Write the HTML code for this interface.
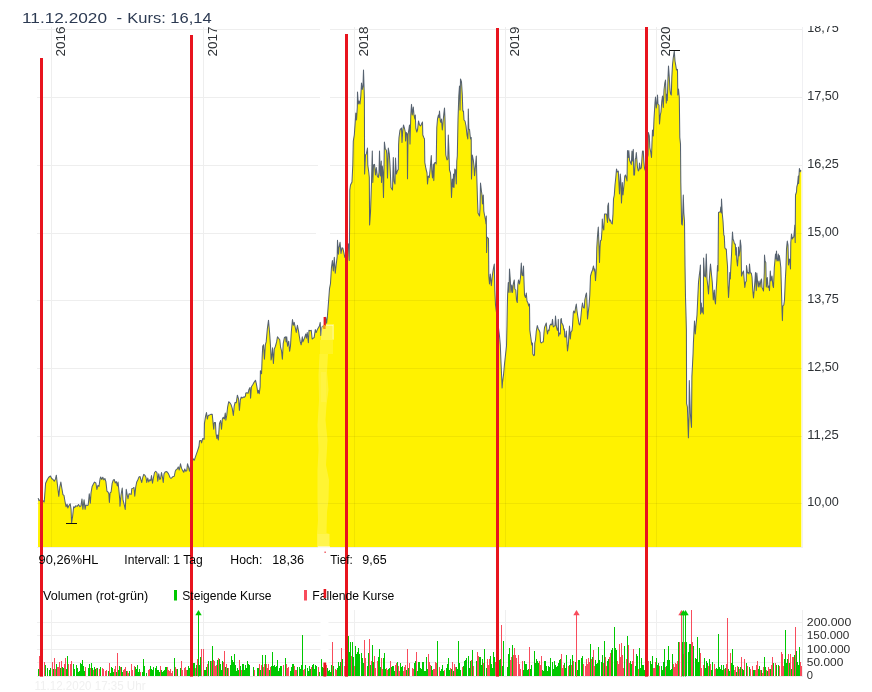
<!DOCTYPE html>
<html lang="de"><head><meta charset="utf-8"><title>Chart</title>
<style>html,body{margin:0;padding:0;background:#fff;}body{width:872px;height:692px;overflow:hidden;}svg{display:block;font-family:"Liberation Sans",sans-serif;}.t{font-size:12.5px;fill:#2e3236;}.y{font-size:13px;fill:#2e3236;}.v{font-size:12.3px;fill:#2c2c2c;}</style></head><body>
<svg width="872" height="692" viewBox="0 0 872 692">
<rect width="872" height="692" fill="#fff"/>
<g shape-rendering="crispEdges" fill="#eeeeee">
<rect x="37" y="28.5" width="765" height="1"/>
<rect x="37" y="96.5" width="765" height="1"/>
<rect x="37" y="164.5" width="765" height="1"/>
<rect x="37" y="232.5" width="765" height="1"/>
<rect x="37" y="299.5" width="765" height="1"/>
<rect x="37" y="367.5" width="765" height="1"/>
<rect x="37" y="435.5" width="765" height="1"/>
<rect x="37" y="502.5" width="765" height="1"/>
<rect x="51" y="27" width="1" height="520"/>
<rect x="203" y="27" width="1" height="520"/>
<rect x="354.2" y="27" width="1" height="520"/>
<rect x="505.1" y="27" width="1" height="520"/>
<rect x="656.2" y="27" width="1" height="520"/>
<rect x="802" y="27" width="1" height="521" fill="#f0f0f3"/>
<rect x="37" y="547" width="766" height="1" fill="#f0f0f3"/>
</g>
<g fill="#fff"><rect x="320" y="28" width="10" height="2" /><rect x="320" y="96" width="10" height="2" /><rect x="318" y="164" width="12" height="2" /><rect x="316" y="232" width="14" height="2" /><rect x="320" y="299" width="6" height="2" /></g>
<path d="M38,547L38.15,498.06L39.01,500.66L40.05,499.79L41.44,501.01L43,500.66L44.21,502.05L45.6,483.33L47.33,479.51L48.72,477.26L50.45,476.05L51.66,478.47L53.05,479.51L54.26,481.25L55.48,478.99L56.34,475.18L57.04,481.59L58.08,490.26L58.77,496.33L59.81,486.79L60.85,482.11L61.89,488.53L62.93,494.59L63.97,495.46L65.01,501.53L66.05,506.72L67.09,504.12L67.78,507.94L68.99,505.51L70.21,503.78L71.07,509.32L71.59,522.84L72.63,516.26L73.67,506.72L74.71,507.59L75.75,505.86L77.14,506.38L78.53,504.47L79.91,506.72L80.95,505.86L81.99,498.93L82.86,509.32L84.07,499.79L85.11,509.32L85.81,504.99L87.19,505.51L88.23,504.99L89.27,493.73L90.31,503.26L91.01,492.86L92.05,486.79L93.26,484.19L94.47,482.11L95.86,482.98L96.9,489.39L97.94,485.41L98.98,486.45L100.02,478.99L100.71,476.92L101.75,479.51L102.79,477.26L103.83,479.86L104.87,478.47L105.91,481.59L106.95,491.13L107.99,491.99L108.86,493.73L109.38,502.39L110.07,492.86L111.11,491.99L112.15,483.33L113.19,480.21L114.23,479.51L115.27,482.98L116.31,481.59L117.35,485.93L118.04,482.11L119.08,491.99L119.77,499.79L120,506.25L121,495L122.25,488.12L123,500L124,503.75L125.25,509.38L126.25,489.38L127.25,495L128,498.75L129,493.75L130.25,494L131.25,494.38L131.75,488.75L133,488.12L134,487.5L134.75,496.25L135.75,486.88L136.75,481.88L137.75,480L139,476.88L140,476.5L141,480L141.75,482.5L142.75,477.5L143.75,474.38L145,475.38L146,477.5L146.75,482.5L147.75,478.12L148.75,481.88L149.75,479.75L150.75,480.62L151.5,475.62L152.5,483.12L153.5,477.5L154.5,472.5L155.75,471.25L157,472.75L157.75,481.25L158.75,473.75L159.75,479.38L160.5,478.75L161.5,472.5L162.5,477.5L163.25,482.5L164,473.75L165.25,471.88L166.25,471.5L167.5,472.25L168.75,474.38L170,477.5L171,478.5L172,477.5L173,476.62L174.25,476.25L175.25,471.25L176.25,469.38L177.25,469L178.25,466.88L179.25,470L180.5,463.75L181.5,468.12L182.75,470.62L183.75,472.25L184.75,469L185.75,471.25L186.75,470.62L187.5,463.75L188.5,466.88L189.5,471.25L190.25,466.88L191.5,465L193.18,458.76L194.34,460.2L195.78,455.87L197.51,450.81L198.96,446.47L199.54,440.69L200.98,440.4L201.56,442.86L202.72,438.53L204.16,439.25L204.45,423.35L205.61,416.13L206.47,412.51L207.34,419.02L208.21,415.4L209.36,415.12L210.81,414.39L212.25,414.39L213.12,423.35L213.7,429.13L214.28,422.63L215.43,422.63L216.01,433.47L216.88,438.53L217.46,434.91L218.32,439.97L219.48,423.35L220.64,420.46L221.5,429.13L222.37,419.02L223.24,417.28L224.39,419.02L225.26,412.95L225.84,420.17L226.71,415.4L227.57,407.46L228.73,401.68L229.88,402.83L231.04,404.57L232.2,408.18L233.35,415.4L234.22,406.01L235.09,402.4L236.24,402.83L237.4,395.17L238.55,398.79L239.42,410.35L240.29,400.23L241.16,397.05L242.02,398.06L243.18,397.05L244.34,397.34L245.49,395.9L245.78,393.01L246.94,392.72L248.09,393.29L248.96,389.39L250,387.43L250.58,398.27L251.45,386.71L252.89,384.54L254.05,382.37L255.49,380.2L256.36,383.82L257.23,388.87L257.8,393.21L258.38,390.32L259.25,393.64L260.12,386.71L260.4,370.81L261.56,373.7L262.14,357.8L262.72,346.24L263.58,344.8L264.45,359.25L265.32,344.8L266.18,341.91L267.34,328.9L268.5,320.23L269.65,333.24L270.52,346.24L271.1,359.97L271.68,357.08L272.54,347.69L273.41,363.58L274.28,349.13L275.43,346.24L276.59,341.91L277.46,336.85L278.61,338.29L279.77,339.74L280.64,347.69L281.5,350.58L282.37,359.25L283.24,343.35L284.39,337.57L285.55,336.85L286.13,341.91L286.71,336.85L287.57,346.24L288.73,341.18L289.6,351.3L290.46,346.24L291.33,331.79L292.49,319.51L293.35,325.29L294.22,322.4L295.09,326.73L296.24,332.51L297.4,325.29L298.55,331.07L299.42,336.85L300.29,341.91L301.16,344.8L302.31,336.85L302.89,341.91L303.76,339.74L304.62,337.57L305.78,333.96L306.36,338.29L307.23,332.51L308.38,342.63L308.96,330.35L310.12,330.64L311.27,330.35L312.14,339.02L313.01,338.29L314.16,337.57L315.32,329.62L316.18,332.51L317.34,329.62L318.5,327.46L319.36,326.01L320.23,322.4L320.81,335.4L321.68,327.46L322.54,326.01L323.7,327.46L324.86,323.84L325.72,317.34L326.59,323.12L327.46,315.9L328.59,301.08L329.54,288.36L330.49,283.59L331.45,267.69L332.4,260.54L333.35,270.87L334.31,257.36L335.26,273.26L336.22,264.52L337.17,256.57L337.49,240.35L338.44,254.18L339.08,247.03L340.03,242.26L340.99,253.39L341.94,247.82L342.89,248.3L343.85,252.59L344.8,257.36L346.39,251.8L348.3,243.85L349.25,260.54L349.6,226L349.8,190L350.5,185L352,182L352.8,165L353.3,141L354.3,135L355.3,121L355.8,113L356.5,120L357.3,107.5L357.5,92L358.3,104L359,101L360,104L360.8,96L361.5,83L362.3,89.4L363,86L363.5,70L364,86L364.4,97.5L364.6,174L365.5,155L366.3,154L367.5,148L367.8,165L368.8,172.5L369.3,177.5L369.6,225L370.5,212.5L371.5,182.5L372.3,151L372.8,182.5L373.5,165L374.5,164.4L375.5,175L376.3,167.5L377.3,176L378.3,177.5L379,172.5L379.5,151L380.3,176L381.3,161L381.5,182.5L382.3,166L382.8,171L383.5,197.5L384.4,142L385.3,149L386.3,150L386.8,154L387.5,178L388.3,148L389.3,154L390,165L391,187.5L392.5,190L393.3,157.5L394,181L395,184L395.5,158L396.3,174L397.5,170.6L398.3,169.4L398.6,145L399,137.5L400,130L400.8,128.8L401.5,128L402,142.5L402.8,130L403.5,125L404.5,128.5L405.3,132L405.6,141L406.3,132.5L407.2,134L407.5,178.8L408,135L408.8,130L409.5,125L410,144L410.8,115L411.5,104.4L412.3,115L413.3,107L414,115L414.8,119L415.3,115L415.8,128L416.8,132L417.5,130L418.5,121L419.5,125L420.5,126L421.5,124L422.5,122L422.8,135L423.8,137.5L424.5,139L424.8,162.5L426,169L427,173L427.5,184L428.3,176L429.3,177.5L430.3,167.5L431.3,155.6L431.8,171L432.5,178L433.3,164L433.8,180.6L434.5,163L435.5,162.5L436.2,164L436.5,145L436.8,127.5L437.5,119L438.5,115L439,117.5L439.5,111L440.3,121L441,122.5L441.5,119L442.3,130L443,122.5L443.8,114L444.5,108L445,119L445.5,146L445.8,155L447,160L447.8,159L448.3,135L448.8,147.5L449.5,170L450.5,173L451,181L451.5,197.5L452.3,179L453,187L453.5,174L454,187.5L454.8,169L455.5,170L456.3,184L456.8,161L457.3,156L458,120L458.8,96L459.5,86L460,110L460.5,79L461.5,82L462.3,95L462.8,111L463.5,111L464,120L465,121L466,126L467,135L467.8,139L468.1,127.5L468.3,109L468.8,129L469.5,129.4L470.5,139L471.2,137.5L471.5,179L472.3,155L473.3,160L474,166L474.5,175.6L475.5,166L476.3,156L476.8,177.5L477.5,200L478,213L479,215L479.5,216L480,209L480.5,183L481.3,190L482,195L482.5,204L483.3,195L483.8,211L484.5,215L485.5,220L486,224L486.3,216L486.6,252.5L487,237L488.5,238.5L488.8,276L489.5,284L490.3,274L491.3,285.6L492.3,276L493.3,269L494.3,264L494.8,290L495.5,305L496,309L497.5,320L499.5,336L500.3,345L501,362.5L501.8,380L502.1,388L502.5,382.5L503.5,375L504.5,364L505.5,355L506.5,346L507,325L507.3,307.5L507.6,295L508.3,282.5L509,292.5L509.5,269L510.3,280L511,292.5L511.8,285L512.5,292.5L513.3,284L514.3,280L514.8,289L515.8,290L516.5,300L517.3,302.5L517.8,285L518.5,280L519.5,284L520.5,277.5L521.3,263L522,275L522.8,275.6L523.5,266L524,281L524.5,295L525.5,297.5L526.3,293L527,301L528,303L528.8,306L529.5,304L529.8,330L530.8,337.5L531.8,345L532.5,343L532.8,354L533.8,355.6L534.5,355L534.8,343L535.5,340L536.3,331L537.3,325.6L538.3,329L539.3,330.6L540,332.5L540.5,342L541.3,343L542.3,342L543.3,342L544,332.5L544.5,327.5L545.5,325L546.3,323L547,331L547.5,334L548.3,330L549,330.6L549.8,325.6L550.8,324L551.8,325L552.5,319.4L553.3,327L554.3,326L555,325.6L555.5,316L556.3,326L557.3,330L558,330.6L558.3,319.4L558.6,336L559.5,333L560.3,334L560.8,319.4L561.3,318.5L561.8,323L562.5,324L563.3,326L563.8,330L564.3,329L564.8,337L565.8,337L566.3,331L566.8,339L567.5,351L568.3,345L569,334L569.5,326L570.3,339L571,332L572,330.6L572.5,326L573.3,312.5L573.8,311L574.8,313L575.5,308L576.3,304L577,311L578,317.5L579,324L579.8,325L580.5,321L581.3,312.5L581.8,307.5L582.5,303L583.3,307.5L584.3,308L584.8,300L585.8,295L586.5,293L587.1,305L587.5,319L588.3,312L589,306L589.8,295L590.5,276L591.5,272.5L592.5,270L593.5,266L594.3,271L594.8,269L595.5,280.6L596.3,269L596.8,247.5L597.5,236L598.3,227L599,246L599.5,262.5L600,247.5L600.5,240.6L601.3,240L602,230L602.3,219L603,227.5L603.8,230L604.5,214L605.5,214L606.5,214L607.5,222.5L607.8,206L608.5,203L608.8,217.5L609.8,221L610.5,220L611.3,223L612.3,224L613,214L613.5,199L614.3,195L615,185L615.8,177.5L616.5,169L617.3,172L618.3,171L618.8,181L619.5,194L620.3,174L620.8,181L621.5,203L622.3,182.5L623,195L624,185L624.8,176L625.5,175L626.3,178L627,181L627.5,150.6L628.3,157.5L628.8,150.6L629.5,160L630.5,162.5L631.3,164.4L632,151L632.5,161L633.3,149.4L633.8,175L634.5,175L635.3,159L635.8,158L636.3,152.5L637,161L637.5,167.5L638.3,171L639,170L639.5,163L640.3,169L641.3,168L642,157.5L642.5,151L643.3,151L643.8,161L644.5,168L645,170L646.5,162L648,155L648.3,132.5L649.3,136L649.8,147.5L650.8,152.5L651.5,157.5L652,142.5L652.5,130L653.3,136L654,119L654.8,106L655,102.5L655.5,97L656.3,108L657,102.5L657.5,95L658,104L659,105L659.5,124L660.3,115L661,112L661.8,101L662.5,96L663.3,107.5L664,90L664.8,83L665.5,80L666.3,103L666.5,94L667.3,100.6L668,77.5L668.5,66L669.3,77.5L670,90L670.5,94L671.3,95L671.8,77.5L672.5,65L673.3,57.5L674.3,51L675,61L675.8,65.6L676.5,70L677.5,69.4L677.8,95L678.5,89L679.3,97.5L679.8,137.5L680.5,144L680.8,182.5L681.3,207.5L681.6,224L682.3,225L682.8,212.5L683.3,195L683.8,212.5L684.5,221L685,266L685.5,297.5L686,315L686.4,330L686.6,403.6L687.4,407L688.4,437.8L689,416L689.3,380.5L690.3,413L691.5,427.4L691.9,376.6L692.5,365L693.1,352.7L693.4,343L693.8,335L694.5,321L695.3,334L696,325L697,315L697.8,297.5L698.5,282.5L699.3,275L700,270L700.4,265L700.6,314L701.3,303L702,312.5L702.8,307.5L703.3,314L703.6,258L704.5,276L705.5,277L706.3,254L707,279L707.8,286L708.5,294L709.3,280L710,270L710.5,264L711.3,272.5L712.3,282.5L713.3,300L714.3,290L714.8,300L715.5,304L716,293L716.8,281L717.5,265.6L718,271L718.5,212.5L719.5,212L720.3,212L720.8,207L721.3,213L721.5,199L722.3,214L723,221L723.8,235L724.3,236L724.8,247.5L725.5,249L726.3,249L726.8,257.5L727.5,266L728,285L728.5,297.5L729.3,285L729.8,272.5L730.3,279L730.8,267.5L731.5,255L732,242.5L732.5,232L733,239L733.8,241L734.5,244L735.3,244L735.8,255L736.3,247.5L736.8,260L737.5,266L738.3,255L738.5,247L739,256L739.8,251L740.3,240L741,246L741.5,276L742.5,273L743.5,271L744,277.5L744.8,287.5L745.5,282.5L746.3,281L746.5,265.6L747.5,273L748.5,272.5L749,274L749.5,264L750.3,273L751.3,273L752,277L752.8,291L753.5,298L754.3,289L755,280L755.5,272.5L756.3,290.6L756.8,273L757.5,281L758.3,287L759,281L760,287L760.8,280.6L761.5,279L762,287.5L762.8,289L763.5,291L764.3,272.5L764.5,255L765,261L765.8,262.5L766.3,287L767.3,277.5L768,287.5L768.8,286L769.5,290.6L770.3,271L771,281L772,276L772.8,285L773.5,287.5L774.3,267.5L775,260L775.5,254L776,259L776.5,251L777,261L777.8,260L778.3,254L778.8,261L779.3,255.6L780,260L780.8,267.5L781.3,285L781.8,303L782.4,320.6L782.8,306L783.8,305L784.5,300L785.3,280L786,267.5L786.5,249L787.3,241L788,245L788.5,265L789.3,259L789.8,260L790.5,269L790.8,242.5L791.5,234L792.3,239L793,237.5L793.8,237L794.5,229.6L794.8,225L795.2,242.6L795.5,195L796.5,192L796.8,187L797.6,184L798.3,176L798.6,183.4L799.4,168.5L800.2,171.7L801,170.4L801.3,170.4 L801.3,547Z" fill="#fff200"/>
<clipPath id="ac"><path d="M38,547L38.15,498.06L39.01,500.66L40.05,499.79L41.44,501.01L43,500.66L44.21,502.05L45.6,483.33L47.33,479.51L48.72,477.26L50.45,476.05L51.66,478.47L53.05,479.51L54.26,481.25L55.48,478.99L56.34,475.18L57.04,481.59L58.08,490.26L58.77,496.33L59.81,486.79L60.85,482.11L61.89,488.53L62.93,494.59L63.97,495.46L65.01,501.53L66.05,506.72L67.09,504.12L67.78,507.94L68.99,505.51L70.21,503.78L71.07,509.32L71.59,522.84L72.63,516.26L73.67,506.72L74.71,507.59L75.75,505.86L77.14,506.38L78.53,504.47L79.91,506.72L80.95,505.86L81.99,498.93L82.86,509.32L84.07,499.79L85.11,509.32L85.81,504.99L87.19,505.51L88.23,504.99L89.27,493.73L90.31,503.26L91.01,492.86L92.05,486.79L93.26,484.19L94.47,482.11L95.86,482.98L96.9,489.39L97.94,485.41L98.98,486.45L100.02,478.99L100.71,476.92L101.75,479.51L102.79,477.26L103.83,479.86L104.87,478.47L105.91,481.59L106.95,491.13L107.99,491.99L108.86,493.73L109.38,502.39L110.07,492.86L111.11,491.99L112.15,483.33L113.19,480.21L114.23,479.51L115.27,482.98L116.31,481.59L117.35,485.93L118.04,482.11L119.08,491.99L119.77,499.79L120,506.25L121,495L122.25,488.12L123,500L124,503.75L125.25,509.38L126.25,489.38L127.25,495L128,498.75L129,493.75L130.25,494L131.25,494.38L131.75,488.75L133,488.12L134,487.5L134.75,496.25L135.75,486.88L136.75,481.88L137.75,480L139,476.88L140,476.5L141,480L141.75,482.5L142.75,477.5L143.75,474.38L145,475.38L146,477.5L146.75,482.5L147.75,478.12L148.75,481.88L149.75,479.75L150.75,480.62L151.5,475.62L152.5,483.12L153.5,477.5L154.5,472.5L155.75,471.25L157,472.75L157.75,481.25L158.75,473.75L159.75,479.38L160.5,478.75L161.5,472.5L162.5,477.5L163.25,482.5L164,473.75L165.25,471.88L166.25,471.5L167.5,472.25L168.75,474.38L170,477.5L171,478.5L172,477.5L173,476.62L174.25,476.25L175.25,471.25L176.25,469.38L177.25,469L178.25,466.88L179.25,470L180.5,463.75L181.5,468.12L182.75,470.62L183.75,472.25L184.75,469L185.75,471.25L186.75,470.62L187.5,463.75L188.5,466.88L189.5,471.25L190.25,466.88L191.5,465L193.18,458.76L194.34,460.2L195.78,455.87L197.51,450.81L198.96,446.47L199.54,440.69L200.98,440.4L201.56,442.86L202.72,438.53L204.16,439.25L204.45,423.35L205.61,416.13L206.47,412.51L207.34,419.02L208.21,415.4L209.36,415.12L210.81,414.39L212.25,414.39L213.12,423.35L213.7,429.13L214.28,422.63L215.43,422.63L216.01,433.47L216.88,438.53L217.46,434.91L218.32,439.97L219.48,423.35L220.64,420.46L221.5,429.13L222.37,419.02L223.24,417.28L224.39,419.02L225.26,412.95L225.84,420.17L226.71,415.4L227.57,407.46L228.73,401.68L229.88,402.83L231.04,404.57L232.2,408.18L233.35,415.4L234.22,406.01L235.09,402.4L236.24,402.83L237.4,395.17L238.55,398.79L239.42,410.35L240.29,400.23L241.16,397.05L242.02,398.06L243.18,397.05L244.34,397.34L245.49,395.9L245.78,393.01L246.94,392.72L248.09,393.29L248.96,389.39L250,387.43L250.58,398.27L251.45,386.71L252.89,384.54L254.05,382.37L255.49,380.2L256.36,383.82L257.23,388.87L257.8,393.21L258.38,390.32L259.25,393.64L260.12,386.71L260.4,370.81L261.56,373.7L262.14,357.8L262.72,346.24L263.58,344.8L264.45,359.25L265.32,344.8L266.18,341.91L267.34,328.9L268.5,320.23L269.65,333.24L270.52,346.24L271.1,359.97L271.68,357.08L272.54,347.69L273.41,363.58L274.28,349.13L275.43,346.24L276.59,341.91L277.46,336.85L278.61,338.29L279.77,339.74L280.64,347.69L281.5,350.58L282.37,359.25L283.24,343.35L284.39,337.57L285.55,336.85L286.13,341.91L286.71,336.85L287.57,346.24L288.73,341.18L289.6,351.3L290.46,346.24L291.33,331.79L292.49,319.51L293.35,325.29L294.22,322.4L295.09,326.73L296.24,332.51L297.4,325.29L298.55,331.07L299.42,336.85L300.29,341.91L301.16,344.8L302.31,336.85L302.89,341.91L303.76,339.74L304.62,337.57L305.78,333.96L306.36,338.29L307.23,332.51L308.38,342.63L308.96,330.35L310.12,330.64L311.27,330.35L312.14,339.02L313.01,338.29L314.16,337.57L315.32,329.62L316.18,332.51L317.34,329.62L318.5,327.46L319.36,326.01L320.23,322.4L320.81,335.4L321.68,327.46L322.54,326.01L323.7,327.46L324.86,323.84L325.72,317.34L326.59,323.12L327.46,315.9L328.59,301.08L329.54,288.36L330.49,283.59L331.45,267.69L332.4,260.54L333.35,270.87L334.31,257.36L335.26,273.26L336.22,264.52L337.17,256.57L337.49,240.35L338.44,254.18L339.08,247.03L340.03,242.26L340.99,253.39L341.94,247.82L342.89,248.3L343.85,252.59L344.8,257.36L346.39,251.8L348.3,243.85L349.25,260.54L349.6,226L349.8,190L350.5,185L352,182L352.8,165L353.3,141L354.3,135L355.3,121L355.8,113L356.5,120L357.3,107.5L357.5,92L358.3,104L359,101L360,104L360.8,96L361.5,83L362.3,89.4L363,86L363.5,70L364,86L364.4,97.5L364.6,174L365.5,155L366.3,154L367.5,148L367.8,165L368.8,172.5L369.3,177.5L369.6,225L370.5,212.5L371.5,182.5L372.3,151L372.8,182.5L373.5,165L374.5,164.4L375.5,175L376.3,167.5L377.3,176L378.3,177.5L379,172.5L379.5,151L380.3,176L381.3,161L381.5,182.5L382.3,166L382.8,171L383.5,197.5L384.4,142L385.3,149L386.3,150L386.8,154L387.5,178L388.3,148L389.3,154L390,165L391,187.5L392.5,190L393.3,157.5L394,181L395,184L395.5,158L396.3,174L397.5,170.6L398.3,169.4L398.6,145L399,137.5L400,130L400.8,128.8L401.5,128L402,142.5L402.8,130L403.5,125L404.5,128.5L405.3,132L405.6,141L406.3,132.5L407.2,134L407.5,178.8L408,135L408.8,130L409.5,125L410,144L410.8,115L411.5,104.4L412.3,115L413.3,107L414,115L414.8,119L415.3,115L415.8,128L416.8,132L417.5,130L418.5,121L419.5,125L420.5,126L421.5,124L422.5,122L422.8,135L423.8,137.5L424.5,139L424.8,162.5L426,169L427,173L427.5,184L428.3,176L429.3,177.5L430.3,167.5L431.3,155.6L431.8,171L432.5,178L433.3,164L433.8,180.6L434.5,163L435.5,162.5L436.2,164L436.5,145L436.8,127.5L437.5,119L438.5,115L439,117.5L439.5,111L440.3,121L441,122.5L441.5,119L442.3,130L443,122.5L443.8,114L444.5,108L445,119L445.5,146L445.8,155L447,160L447.8,159L448.3,135L448.8,147.5L449.5,170L450.5,173L451,181L451.5,197.5L452.3,179L453,187L453.5,174L454,187.5L454.8,169L455.5,170L456.3,184L456.8,161L457.3,156L458,120L458.8,96L459.5,86L460,110L460.5,79L461.5,82L462.3,95L462.8,111L463.5,111L464,120L465,121L466,126L467,135L467.8,139L468.1,127.5L468.3,109L468.8,129L469.5,129.4L470.5,139L471.2,137.5L471.5,179L472.3,155L473.3,160L474,166L474.5,175.6L475.5,166L476.3,156L476.8,177.5L477.5,200L478,213L479,215L479.5,216L480,209L480.5,183L481.3,190L482,195L482.5,204L483.3,195L483.8,211L484.5,215L485.5,220L486,224L486.3,216L486.6,252.5L487,237L488.5,238.5L488.8,276L489.5,284L490.3,274L491.3,285.6L492.3,276L493.3,269L494.3,264L494.8,290L495.5,305L496,309L497.5,320L499.5,336L500.3,345L501,362.5L501.8,380L502.1,388L502.5,382.5L503.5,375L504.5,364L505.5,355L506.5,346L507,325L507.3,307.5L507.6,295L508.3,282.5L509,292.5L509.5,269L510.3,280L511,292.5L511.8,285L512.5,292.5L513.3,284L514.3,280L514.8,289L515.8,290L516.5,300L517.3,302.5L517.8,285L518.5,280L519.5,284L520.5,277.5L521.3,263L522,275L522.8,275.6L523.5,266L524,281L524.5,295L525.5,297.5L526.3,293L527,301L528,303L528.8,306L529.5,304L529.8,330L530.8,337.5L531.8,345L532.5,343L532.8,354L533.8,355.6L534.5,355L534.8,343L535.5,340L536.3,331L537.3,325.6L538.3,329L539.3,330.6L540,332.5L540.5,342L541.3,343L542.3,342L543.3,342L544,332.5L544.5,327.5L545.5,325L546.3,323L547,331L547.5,334L548.3,330L549,330.6L549.8,325.6L550.8,324L551.8,325L552.5,319.4L553.3,327L554.3,326L555,325.6L555.5,316L556.3,326L557.3,330L558,330.6L558.3,319.4L558.6,336L559.5,333L560.3,334L560.8,319.4L561.3,318.5L561.8,323L562.5,324L563.3,326L563.8,330L564.3,329L564.8,337L565.8,337L566.3,331L566.8,339L567.5,351L568.3,345L569,334L569.5,326L570.3,339L571,332L572,330.6L572.5,326L573.3,312.5L573.8,311L574.8,313L575.5,308L576.3,304L577,311L578,317.5L579,324L579.8,325L580.5,321L581.3,312.5L581.8,307.5L582.5,303L583.3,307.5L584.3,308L584.8,300L585.8,295L586.5,293L587.1,305L587.5,319L588.3,312L589,306L589.8,295L590.5,276L591.5,272.5L592.5,270L593.5,266L594.3,271L594.8,269L595.5,280.6L596.3,269L596.8,247.5L597.5,236L598.3,227L599,246L599.5,262.5L600,247.5L600.5,240.6L601.3,240L602,230L602.3,219L603,227.5L603.8,230L604.5,214L605.5,214L606.5,214L607.5,222.5L607.8,206L608.5,203L608.8,217.5L609.8,221L610.5,220L611.3,223L612.3,224L613,214L613.5,199L614.3,195L615,185L615.8,177.5L616.5,169L617.3,172L618.3,171L618.8,181L619.5,194L620.3,174L620.8,181L621.5,203L622.3,182.5L623,195L624,185L624.8,176L625.5,175L626.3,178L627,181L627.5,150.6L628.3,157.5L628.8,150.6L629.5,160L630.5,162.5L631.3,164.4L632,151L632.5,161L633.3,149.4L633.8,175L634.5,175L635.3,159L635.8,158L636.3,152.5L637,161L637.5,167.5L638.3,171L639,170L639.5,163L640.3,169L641.3,168L642,157.5L642.5,151L643.3,151L643.8,161L644.5,168L645,170L646.5,162L648,155L648.3,132.5L649.3,136L649.8,147.5L650.8,152.5L651.5,157.5L652,142.5L652.5,130L653.3,136L654,119L654.8,106L655,102.5L655.5,97L656.3,108L657,102.5L657.5,95L658,104L659,105L659.5,124L660.3,115L661,112L661.8,101L662.5,96L663.3,107.5L664,90L664.8,83L665.5,80L666.3,103L666.5,94L667.3,100.6L668,77.5L668.5,66L669.3,77.5L670,90L670.5,94L671.3,95L671.8,77.5L672.5,65L673.3,57.5L674.3,51L675,61L675.8,65.6L676.5,70L677.5,69.4L677.8,95L678.5,89L679.3,97.5L679.8,137.5L680.5,144L680.8,182.5L681.3,207.5L681.6,224L682.3,225L682.8,212.5L683.3,195L683.8,212.5L684.5,221L685,266L685.5,297.5L686,315L686.4,330L686.6,403.6L687.4,407L688.4,437.8L689,416L689.3,380.5L690.3,413L691.5,427.4L691.9,376.6L692.5,365L693.1,352.7L693.4,343L693.8,335L694.5,321L695.3,334L696,325L697,315L697.8,297.5L698.5,282.5L699.3,275L700,270L700.4,265L700.6,314L701.3,303L702,312.5L702.8,307.5L703.3,314L703.6,258L704.5,276L705.5,277L706.3,254L707,279L707.8,286L708.5,294L709.3,280L710,270L710.5,264L711.3,272.5L712.3,282.5L713.3,300L714.3,290L714.8,300L715.5,304L716,293L716.8,281L717.5,265.6L718,271L718.5,212.5L719.5,212L720.3,212L720.8,207L721.3,213L721.5,199L722.3,214L723,221L723.8,235L724.3,236L724.8,247.5L725.5,249L726.3,249L726.8,257.5L727.5,266L728,285L728.5,297.5L729.3,285L729.8,272.5L730.3,279L730.8,267.5L731.5,255L732,242.5L732.5,232L733,239L733.8,241L734.5,244L735.3,244L735.8,255L736.3,247.5L736.8,260L737.5,266L738.3,255L738.5,247L739,256L739.8,251L740.3,240L741,246L741.5,276L742.5,273L743.5,271L744,277.5L744.8,287.5L745.5,282.5L746.3,281L746.5,265.6L747.5,273L748.5,272.5L749,274L749.5,264L750.3,273L751.3,273L752,277L752.8,291L753.5,298L754.3,289L755,280L755.5,272.5L756.3,290.6L756.8,273L757.5,281L758.3,287L759,281L760,287L760.8,280.6L761.5,279L762,287.5L762.8,289L763.5,291L764.3,272.5L764.5,255L765,261L765.8,262.5L766.3,287L767.3,277.5L768,287.5L768.8,286L769.5,290.6L770.3,271L771,281L772,276L772.8,285L773.5,287.5L774.3,267.5L775,260L775.5,254L776,259L776.5,251L777,261L777.8,260L778.3,254L778.8,261L779.3,255.6L780,260L780.8,267.5L781.3,285L781.8,303L782.4,320.6L782.8,306L783.8,305L784.5,300L785.3,280L786,267.5L786.5,249L787.3,241L788,245L788.5,265L789.3,259L789.8,260L790.5,269L790.8,242.5L791.5,234L792.3,239L793,237.5L793.8,237L794.5,229.6L794.8,225L795.2,242.6L795.5,195L796.5,192L796.8,187L797.6,184L798.3,176L798.6,183.4L799.4,168.5L800.2,171.7L801,170.4L801.3,170.4 L801.3,547Z"/></clipPath>
<g clip-path="url(#ac)" fill="#000" fill-opacity="0.055" shape-rendering="crispEdges">
<rect x="37" y="28.5" width="765" height="1"/>
<rect x="37" y="96.5" width="765" height="1"/>
<rect x="37" y="164.5" width="765" height="1"/>
<rect x="37" y="232.5" width="765" height="1"/>
<rect x="37" y="299.5" width="765" height="1"/>
<rect x="37" y="367.5" width="765" height="1"/>
<rect x="37" y="435.5" width="765" height="1"/>
<rect x="37" y="502.5" width="765" height="1"/>
<rect x="51" y="29" width="1" height="518"/>
<rect x="203" y="29" width="1" height="518"/>
<rect x="354.2" y="29" width="1" height="518"/>
<rect x="505.1" y="29" width="1" height="518"/>
<rect x="656.2" y="29" width="1" height="518"/>
</g>
<path d="M38.15,498.06L39.01,500.66L40.05,499.79L41.44,501.01L43,500.66L44.21,502.05L45.6,483.33L47.33,479.51L48.72,477.26L50.45,476.05L51.66,478.47L53.05,479.51L54.26,481.25L55.48,478.99L56.34,475.18L57.04,481.59L58.08,490.26L58.77,496.33L59.81,486.79L60.85,482.11L61.89,488.53L62.93,494.59L63.97,495.46L65.01,501.53L66.05,506.72L67.09,504.12L67.78,507.94L68.99,505.51L70.21,503.78L71.07,509.32L71.59,522.84L72.63,516.26L73.67,506.72L74.71,507.59L75.75,505.86L77.14,506.38L78.53,504.47L79.91,506.72L80.95,505.86L81.99,498.93L82.86,509.32L84.07,499.79L85.11,509.32L85.81,504.99L87.19,505.51L88.23,504.99L89.27,493.73L90.31,503.26L91.01,492.86L92.05,486.79L93.26,484.19L94.47,482.11L95.86,482.98L96.9,489.39L97.94,485.41L98.98,486.45L100.02,478.99L100.71,476.92L101.75,479.51L102.79,477.26L103.83,479.86L104.87,478.47L105.91,481.59L106.95,491.13L107.99,491.99L108.86,493.73L109.38,502.39L110.07,492.86L111.11,491.99L112.15,483.33L113.19,480.21L114.23,479.51L115.27,482.98L116.31,481.59L117.35,485.93L118.04,482.11L119.08,491.99L119.77,499.79L120,506.25L121,495L122.25,488.12L123,500L124,503.75L125.25,509.38L126.25,489.38L127.25,495L128,498.75L129,493.75L130.25,494L131.25,494.38L131.75,488.75L133,488.12L134,487.5L134.75,496.25L135.75,486.88L136.75,481.88L137.75,480L139,476.88L140,476.5L141,480L141.75,482.5L142.75,477.5L143.75,474.38L145,475.38L146,477.5L146.75,482.5L147.75,478.12L148.75,481.88L149.75,479.75L150.75,480.62L151.5,475.62L152.5,483.12L153.5,477.5L154.5,472.5L155.75,471.25L157,472.75L157.75,481.25L158.75,473.75L159.75,479.38L160.5,478.75L161.5,472.5L162.5,477.5L163.25,482.5L164,473.75L165.25,471.88L166.25,471.5L167.5,472.25L168.75,474.38L170,477.5L171,478.5L172,477.5L173,476.62L174.25,476.25L175.25,471.25L176.25,469.38L177.25,469L178.25,466.88L179.25,470L180.5,463.75L181.5,468.12L182.75,470.62L183.75,472.25L184.75,469L185.75,471.25L186.75,470.62L187.5,463.75L188.5,466.88L189.5,471.25L190.25,466.88L191.5,465L193.18,458.76L194.34,460.2L195.78,455.87L197.51,450.81L198.96,446.47L199.54,440.69L200.98,440.4L201.56,442.86L202.72,438.53L204.16,439.25L204.45,423.35L205.61,416.13L206.47,412.51L207.34,419.02L208.21,415.4L209.36,415.12L210.81,414.39L212.25,414.39L213.12,423.35L213.7,429.13L214.28,422.63L215.43,422.63L216.01,433.47L216.88,438.53L217.46,434.91L218.32,439.97L219.48,423.35L220.64,420.46L221.5,429.13L222.37,419.02L223.24,417.28L224.39,419.02L225.26,412.95L225.84,420.17L226.71,415.4L227.57,407.46L228.73,401.68L229.88,402.83L231.04,404.57L232.2,408.18L233.35,415.4L234.22,406.01L235.09,402.4L236.24,402.83L237.4,395.17L238.55,398.79L239.42,410.35L240.29,400.23L241.16,397.05L242.02,398.06L243.18,397.05L244.34,397.34L245.49,395.9L245.78,393.01L246.94,392.72L248.09,393.29L248.96,389.39L250,387.43L250.58,398.27L251.45,386.71L252.89,384.54L254.05,382.37L255.49,380.2L256.36,383.82L257.23,388.87L257.8,393.21L258.38,390.32L259.25,393.64L260.12,386.71L260.4,370.81L261.56,373.7L262.14,357.8L262.72,346.24L263.58,344.8L264.45,359.25L265.32,344.8L266.18,341.91L267.34,328.9L268.5,320.23L269.65,333.24L270.52,346.24L271.1,359.97L271.68,357.08L272.54,347.69L273.41,363.58L274.28,349.13L275.43,346.24L276.59,341.91L277.46,336.85L278.61,338.29L279.77,339.74L280.64,347.69L281.5,350.58L282.37,359.25L283.24,343.35L284.39,337.57L285.55,336.85L286.13,341.91L286.71,336.85L287.57,346.24L288.73,341.18L289.6,351.3L290.46,346.24L291.33,331.79L292.49,319.51L293.35,325.29L294.22,322.4L295.09,326.73L296.24,332.51L297.4,325.29L298.55,331.07L299.42,336.85L300.29,341.91L301.16,344.8L302.31,336.85L302.89,341.91L303.76,339.74L304.62,337.57L305.78,333.96L306.36,338.29L307.23,332.51L308.38,342.63L308.96,330.35L310.12,330.64L311.27,330.35L312.14,339.02L313.01,338.29L314.16,337.57L315.32,329.62L316.18,332.51L317.34,329.62L318.5,327.46L319.36,326.01L320.23,322.4L320.81,335.4L321.68,327.46L322.54,326.01L323.7,327.46L324.86,323.84L325.72,317.34L326.59,323.12L327.46,315.9L328.59,301.08L329.54,288.36L330.49,283.59L331.45,267.69L332.4,260.54L333.35,270.87L334.31,257.36L335.26,273.26L336.22,264.52L337.17,256.57L337.49,240.35L338.44,254.18L339.08,247.03L340.03,242.26L340.99,253.39L341.94,247.82L342.89,248.3L343.85,252.59L344.8,257.36L346.39,251.8L348.3,243.85L349.25,260.54L349.6,226L349.8,190L350.5,185L352,182L352.8,165L353.3,141L354.3,135L355.3,121L355.8,113L356.5,120L357.3,107.5L357.5,92L358.3,104L359,101L360,104L360.8,96L361.5,83L362.3,89.4L363,86L363.5,70L364,86L364.4,97.5L364.6,174L365.5,155L366.3,154L367.5,148L367.8,165L368.8,172.5L369.3,177.5L369.6,225L370.5,212.5L371.5,182.5L372.3,151L372.8,182.5L373.5,165L374.5,164.4L375.5,175L376.3,167.5L377.3,176L378.3,177.5L379,172.5L379.5,151L380.3,176L381.3,161L381.5,182.5L382.3,166L382.8,171L383.5,197.5L384.4,142L385.3,149L386.3,150L386.8,154L387.5,178L388.3,148L389.3,154L390,165L391,187.5L392.5,190L393.3,157.5L394,181L395,184L395.5,158L396.3,174L397.5,170.6L398.3,169.4L398.6,145L399,137.5L400,130L400.8,128.8L401.5,128L402,142.5L402.8,130L403.5,125L404.5,128.5L405.3,132L405.6,141L406.3,132.5L407.2,134L407.5,178.8L408,135L408.8,130L409.5,125L410,144L410.8,115L411.5,104.4L412.3,115L413.3,107L414,115L414.8,119L415.3,115L415.8,128L416.8,132L417.5,130L418.5,121L419.5,125L420.5,126L421.5,124L422.5,122L422.8,135L423.8,137.5L424.5,139L424.8,162.5L426,169L427,173L427.5,184L428.3,176L429.3,177.5L430.3,167.5L431.3,155.6L431.8,171L432.5,178L433.3,164L433.8,180.6L434.5,163L435.5,162.5L436.2,164L436.5,145L436.8,127.5L437.5,119L438.5,115L439,117.5L439.5,111L440.3,121L441,122.5L441.5,119L442.3,130L443,122.5L443.8,114L444.5,108L445,119L445.5,146L445.8,155L447,160L447.8,159L448.3,135L448.8,147.5L449.5,170L450.5,173L451,181L451.5,197.5L452.3,179L453,187L453.5,174L454,187.5L454.8,169L455.5,170L456.3,184L456.8,161L457.3,156L458,120L458.8,96L459.5,86L460,110L460.5,79L461.5,82L462.3,95L462.8,111L463.5,111L464,120L465,121L466,126L467,135L467.8,139L468.1,127.5L468.3,109L468.8,129L469.5,129.4L470.5,139L471.2,137.5L471.5,179L472.3,155L473.3,160L474,166L474.5,175.6L475.5,166L476.3,156L476.8,177.5L477.5,200L478,213L479,215L479.5,216L480,209L480.5,183L481.3,190L482,195L482.5,204L483.3,195L483.8,211L484.5,215L485.5,220L486,224L486.3,216L486.6,252.5L487,237L488.5,238.5L488.8,276L489.5,284L490.3,274L491.3,285.6L492.3,276L493.3,269L494.3,264L494.8,290L495.5,305L496,309L497.5,320L499.5,336L500.3,345L501,362.5L501.8,380L502.1,388L502.5,382.5L503.5,375L504.5,364L505.5,355L506.5,346L507,325L507.3,307.5L507.6,295L508.3,282.5L509,292.5L509.5,269L510.3,280L511,292.5L511.8,285L512.5,292.5L513.3,284L514.3,280L514.8,289L515.8,290L516.5,300L517.3,302.5L517.8,285L518.5,280L519.5,284L520.5,277.5L521.3,263L522,275L522.8,275.6L523.5,266L524,281L524.5,295L525.5,297.5L526.3,293L527,301L528,303L528.8,306L529.5,304L529.8,330L530.8,337.5L531.8,345L532.5,343L532.8,354L533.8,355.6L534.5,355L534.8,343L535.5,340L536.3,331L537.3,325.6L538.3,329L539.3,330.6L540,332.5L540.5,342L541.3,343L542.3,342L543.3,342L544,332.5L544.5,327.5L545.5,325L546.3,323L547,331L547.5,334L548.3,330L549,330.6L549.8,325.6L550.8,324L551.8,325L552.5,319.4L553.3,327L554.3,326L555,325.6L555.5,316L556.3,326L557.3,330L558,330.6L558.3,319.4L558.6,336L559.5,333L560.3,334L560.8,319.4L561.3,318.5L561.8,323L562.5,324L563.3,326L563.8,330L564.3,329L564.8,337L565.8,337L566.3,331L566.8,339L567.5,351L568.3,345L569,334L569.5,326L570.3,339L571,332L572,330.6L572.5,326L573.3,312.5L573.8,311L574.8,313L575.5,308L576.3,304L577,311L578,317.5L579,324L579.8,325L580.5,321L581.3,312.5L581.8,307.5L582.5,303L583.3,307.5L584.3,308L584.8,300L585.8,295L586.5,293L587.1,305L587.5,319L588.3,312L589,306L589.8,295L590.5,276L591.5,272.5L592.5,270L593.5,266L594.3,271L594.8,269L595.5,280.6L596.3,269L596.8,247.5L597.5,236L598.3,227L599,246L599.5,262.5L600,247.5L600.5,240.6L601.3,240L602,230L602.3,219L603,227.5L603.8,230L604.5,214L605.5,214L606.5,214L607.5,222.5L607.8,206L608.5,203L608.8,217.5L609.8,221L610.5,220L611.3,223L612.3,224L613,214L613.5,199L614.3,195L615,185L615.8,177.5L616.5,169L617.3,172L618.3,171L618.8,181L619.5,194L620.3,174L620.8,181L621.5,203L622.3,182.5L623,195L624,185L624.8,176L625.5,175L626.3,178L627,181L627.5,150.6L628.3,157.5L628.8,150.6L629.5,160L630.5,162.5L631.3,164.4L632,151L632.5,161L633.3,149.4L633.8,175L634.5,175L635.3,159L635.8,158L636.3,152.5L637,161L637.5,167.5L638.3,171L639,170L639.5,163L640.3,169L641.3,168L642,157.5L642.5,151L643.3,151L643.8,161L644.5,168L645,170L646.5,162L648,155L648.3,132.5L649.3,136L649.8,147.5L650.8,152.5L651.5,157.5L652,142.5L652.5,130L653.3,136L654,119L654.8,106L655,102.5L655.5,97L656.3,108L657,102.5L657.5,95L658,104L659,105L659.5,124L660.3,115L661,112L661.8,101L662.5,96L663.3,107.5L664,90L664.8,83L665.5,80L666.3,103L666.5,94L667.3,100.6L668,77.5L668.5,66L669.3,77.5L670,90L670.5,94L671.3,95L671.8,77.5L672.5,65L673.3,57.5L674.3,51L675,61L675.8,65.6L676.5,70L677.5,69.4L677.8,95L678.5,89L679.3,97.5L679.8,137.5L680.5,144L680.8,182.5L681.3,207.5L681.6,224L682.3,225L682.8,212.5L683.3,195L683.8,212.5L684.5,221L685,266L685.5,297.5L686,315L686.4,330L686.6,403.6L687.4,407L688.4,437.8L689,416L689.3,380.5L690.3,413L691.5,427.4L691.9,376.6L692.5,365L693.1,352.7L693.4,343L693.8,335L694.5,321L695.3,334L696,325L697,315L697.8,297.5L698.5,282.5L699.3,275L700,270L700.4,265L700.6,314L701.3,303L702,312.5L702.8,307.5L703.3,314L703.6,258L704.5,276L705.5,277L706.3,254L707,279L707.8,286L708.5,294L709.3,280L710,270L710.5,264L711.3,272.5L712.3,282.5L713.3,300L714.3,290L714.8,300L715.5,304L716,293L716.8,281L717.5,265.6L718,271L718.5,212.5L719.5,212L720.3,212L720.8,207L721.3,213L721.5,199L722.3,214L723,221L723.8,235L724.3,236L724.8,247.5L725.5,249L726.3,249L726.8,257.5L727.5,266L728,285L728.5,297.5L729.3,285L729.8,272.5L730.3,279L730.8,267.5L731.5,255L732,242.5L732.5,232L733,239L733.8,241L734.5,244L735.3,244L735.8,255L736.3,247.5L736.8,260L737.5,266L738.3,255L738.5,247L739,256L739.8,251L740.3,240L741,246L741.5,276L742.5,273L743.5,271L744,277.5L744.8,287.5L745.5,282.5L746.3,281L746.5,265.6L747.5,273L748.5,272.5L749,274L749.5,264L750.3,273L751.3,273L752,277L752.8,291L753.5,298L754.3,289L755,280L755.5,272.5L756.3,290.6L756.8,273L757.5,281L758.3,287L759,281L760,287L760.8,280.6L761.5,279L762,287.5L762.8,289L763.5,291L764.3,272.5L764.5,255L765,261L765.8,262.5L766.3,287L767.3,277.5L768,287.5L768.8,286L769.5,290.6L770.3,271L771,281L772,276L772.8,285L773.5,287.5L774.3,267.5L775,260L775.5,254L776,259L776.5,251L777,261L777.8,260L778.3,254L778.8,261L779.3,255.6L780,260L780.8,267.5L781.3,285L781.8,303L782.4,320.6L782.8,306L783.8,305L784.5,300L785.3,280L786,267.5L786.5,249L787.3,241L788,245L788.5,265L789.3,259L789.8,260L790.5,269L790.8,242.5L791.5,234L792.3,239L793,237.5L793.8,237L794.5,229.6L794.8,225L795.2,242.6L795.5,195L796.5,192L796.8,187L797.6,184L798.3,176L798.6,183.4L799.4,168.5L800.2,171.7L801,170.4" fill="none" stroke="#566270" stroke-width="1.05" stroke-linejoin="round"/>
<g fill="#111" shape-rendering="crispEdges"><rect x="669" y="50" width="11" height="1"/><rect x="66" y="523" width="11" height="1"/></g>
<g fill="#fff"><rect x="321" y="324" width="13" height="16" fill-opacity="0.3"/><rect x="322" y="325" width="11" height="1" fill-opacity="0.4"/><rect x="332.5" y="325" width="1" height="14" fill-opacity="0.4"/><rect x="320" y="340" width="13" height="14" fill-opacity="0.14"/><path d="M319.5,354 L328,354 L327,372 L328.5,390 L326.5,405 L325.5,420 L327.5,440 L326,465 L329,480 L328.5,500 L327,512 L326.5,533 L329.5,534 L329.5,547 L317,547 L317,534 L318,520 L317.5,500 L317.5,470 L318.5,450 L317.5,425 L319,400 L318.5,375 Z" fill-opacity="0.2"/><rect x="317.5" y="534" width="12" height="13" fill-opacity="0.14"/><rect x="321" y="372" width="5" height="30" fill-opacity="0.08"/><rect x="318" y="546" width="12" height="4" fill-opacity="0.5"/></g>
<g fill="#e8141e"><rect x="323.6" y="317" width="2.2" height="9"/><rect x="324.6" y="551.5" width="1" height="1.5"/></g>
<rect x="323.2" y="325" width="2.4" height="4" fill="#f59a10"/>
<g shape-rendering="crispEdges" fill="#efefef">
<rect x="37" y="622" width="765" height="1"/>
<rect x="37" y="635" width="765" height="1"/>
<rect x="37" y="649" width="765" height="1"/>
<rect x="37" y="662" width="765" height="1"/>
<rect x="51" y="610" width="1" height="67"/>
<rect x="203" y="610" width="1" height="67"/>
<rect x="354.2" y="610" width="1" height="67"/>
<rect x="505.1" y="610" width="1" height="67"/>
<rect x="656.2" y="610" width="1" height="67"/>
<rect x="802" y="610" width="1" height="67"/>
<rect x="37" y="676" width="766" height="1" fill="#efefef"/>
</g>
<rect x="320.5" y="606" width="8" height="70" fill="#fff"/>
<path d="M39,676.2v-20h1v20zM44,676.2v-14h1v14zM52,676.2v-14h1v14zM54,676.2v-18h1v18zM55,676.2v-7h1v7zM57,676.2v-9h1v9zM58,676.2v-9h1v9zM59,676.2v-14h1v14zM61,676.2v-15h1v15zM64,676.2v-12h1v12zM65,676.2v-18h1v18zM68,676.2v-12h1v12zM70,676.2v-12h1v12zM71,676.2v-15h1v15zM85,676.2v-9h1v9zM90,676.2v-8h1v8zM93,676.2v-6h1v6zM96,676.2v-8h1v8zM99,676.2v-7h1v7zM102,676.2v-8h1v8zM103,676.2v-7h1v7zM105,676.2v-5h1v5zM106,676.2v-6h1v6zM109,676.2v-13h1v13zM114,676.2v-7h1v7zM115,676.2v-10h1v10zM117,676.2v-23h1v23zM120,676.2v-9h1v9zM123,676.2v-6h1v6zM124,676.2v-7h1v7zM125,676.2v-9h1v9zM127,676.2v-5h1v5zM128,676.2v-3h1v3zM131,676.2v-12h1v12zM132,676.2v-6h1v6zM134,676.2v-10h1v10zM140,676.2v-4h1v4zM148,676.2v-6h1v6zM149,676.2v-7h1v7zM160,676.2v-10h1v10zM167,676.2v-9h1v9zM168,676.2v-6h1v6zM169,676.2v-5h1v5zM170,676.2v-7h1v7zM171,676.2v-3h1v3zM172,676.2v-5h1v5zM175,676.2v-9h1v9zM176,676.2v-7h1v7zM181,676.2v-15h1v15zM182,676.2v-6h1v6zM184,676.2v-8h1v8zM185,676.2v-9h1v9zM186,676.2v-6h1v6zM195,676.2v-8h1v8zM197,676.2v-17h1v17zM198,676.2v-8h1v8zM201,676.2v-27h1v27zM203,676.2v-27h1v27zM207,676.2v-12h1v12zM211,676.2v-15h1v15zM213,676.2v-16h1v16zM214,676.2v-15h1v15zM215,676.2v-10h1v10zM216,676.2v-11h1v11zM218,676.2v-18h1v18zM223,676.2v-14h1v14zM224,676.2v-25h1v25zM226,676.2v-12h1v12zM228,676.2v-8h1v8zM239,676.2v-16h1v16zM241,676.2v-6h1v6zM254,676.2v-6h1v6zM259,676.2v-12h1v12zM261,676.2v-11h1v11zM263,676.2v-9h1v9zM264,676.2v-12h1v12zM266,676.2v-12h1v12zM267,676.2v-8h1v8zM268,676.2v-12h1v12zM270,676.2v-9h1v9zM283,676.2v-11h1v11zM286,676.2v-12h1v12zM287,676.2v-8h1v8zM288,676.2v-9h1v9zM294,676.2v-10h1v10zM295,676.2v-6h1v6zM296,676.2v-6h1v6zM303,676.2v-6h1v6zM304,676.2v-7h1v7zM311,676.2v-9h1v9zM318,676.2v-9h1v9zM324,676.2v-10h1v10zM325,676.2v-12h1v12zM326,676.2v-11h1v11zM332,676.2v-34h1v34zM335,676.2v-7h1v7zM336,676.2v-6h1v6zM341,676.2v-28h1v28zM344,676.2v-10h1v10zM345,676.2v-8h1v8zM351,676.2v-20h1v20zM354,676.2v-10h1v10zM364,676.2v-36h1v36zM365,676.2v-18h1v18zM369,676.2v-37h1v37zM371,676.2v-15h1v15zM374,676.2v-20h1v20zM375,676.2v-8h1v8zM377,676.2v-15h1v15zM381,676.2v-18h1v18zM382,676.2v-7h1v7zM386,676.2v-8h1v8zM387,676.2v-6h1v6zM390,676.2v-15h1v15zM395,676.2v-11h1v11zM396,676.2v-13h1v13zM398,676.2v-10h1v10zM399,676.2v-5h1v5zM403,676.2v-5h1v5zM404,676.2v-9h1v9zM405,676.2v-11h1v11zM407,676.2v-27h1v27zM409,676.2v-13h1v13zM412,676.2v-8h1v8zM413,676.2v-7h1v7zM416,676.2v-24h1v24zM428,676.2v-22h1v22zM429,676.2v-14h1v14zM430,676.2v-11h1v11zM433,676.2v-7h1v7zM434,676.2v-7h1v7zM435,676.2v-14h1v14zM436,676.2v-13h1v13zM439,676.2v-9h1v9zM444,676.2v-6h1v6zM450,676.2v-8h1v8zM452,676.2v-14h1v14zM454,676.2v-12h1v12zM455,676.2v-9h1v9zM462,676.2v-9h1v9zM471,676.2v-16h1v16zM473,676.2v-10h1v10zM477,676.2v-24h1v24zM478,676.2v-20h1v20zM483,676.2v-13h1v13zM487,676.2v-17h1v17zM488,676.2v-11h1v11zM489,676.2v-17h1v17zM495,676.2v-14h1v14zM496,676.2v-18h1v18zM497,676.2v-13h1v13zM501,676.2v-51h1v51zM510,676.2v-16h1v16zM511,676.2v-19h1v19zM513,676.2v-21h1v21zM514,676.2v-28h1v28zM515,676.2v-21h1v21zM516,676.2v-18h1v18zM518,676.2v-21h1v21zM519,676.2v-12h1v12zM520,676.2v-7h1v7zM522,676.2v-15h1v15zM529,676.2v-29h1v29zM539,676.2v-15h1v15zM540,676.2v-11h1v11zM541,676.2v-20h1v20zM561,676.2v-22h1v22zM562,676.2v-8h1v8zM563,676.2v-11h1v11zM568,676.2v-10h1v10zM571,676.2v-11h1v11zM573,676.2v-15h1v15zM583,676.2v-12h1v12zM585,676.2v-10h1v10zM586,676.2v-17h1v17zM587,676.2v-12h1v12zM588,676.2v-18h1v18zM589,676.2v-14h1v14zM591,676.2v-17h1v17zM593,676.2v-26h1v26zM594,676.2v-10h1v10zM603,676.2v-13h1v13zM605,676.2v-19h1v19zM606,676.2v-10h1v10zM609,676.2v-19h1v19zM610,676.2v-23h1v23zM617,676.2v-15h1v15zM618,676.2v-12h1v12zM619,676.2v-32h1v32zM620,676.2v-19h1v19zM621,676.2v-33h1v33zM622,676.2v-21h1v21zM623,676.2v-8h1v8zM626,676.2v-17h1v17zM628,676.2v-31h1v31zM629,676.2v-13h1v13zM632,676.2v-15h1v15zM633,676.2v-27h1v27zM638,676.2v-7h1v7zM648,676.2v-15h1v15zM653,676.2v-8h1v8zM654,676.2v-8h1v8zM655,676.2v-14h1v14zM659,676.2v-10h1v10zM665,676.2v-9h1v9zM673,676.2v-12h1v12zM674,676.2v-9h1v9zM675,676.2v-13h1v13zM676,676.2v-12h1v12zM677,676.2v-15h1v15zM679,676.2v-34h1v34zM683,676.2v-22h1v22zM684,676.2v-34h1v34zM691,676.2v-66h1v66zM692,676.2v-34h1v34zM700,676.2v-23h1v23zM701,676.2v-8h1v8zM703,676.2v-11h1v11zM708,676.2v-10h1v10zM710,676.2v-12h1v12zM714,676.2v-12h1v12zM715,676.2v-7h1v7zM724,676.2v-7h1v7zM726,676.2v-12h1v12zM727,676.2v-58h1v58zM730,676.2v-23h1v23zM734,676.2v-6h1v6zM735,676.2v-9h1v9zM737,676.2v-10h1v10zM739,676.2v-7h1v7zM741,676.2v-19h1v19zM744,676.2v-17h1v17zM747,676.2v-10h1v10zM750,676.2v-7h1v7zM752,676.2v-10h1v10zM755,676.2v-6h1v6zM756,676.2v-11h1v11zM757,676.2v-15h1v15zM760,676.2v-6h1v6zM762,676.2v-3h1v3zM763,676.2v-9h1v9zM766,676.2v-6h1v6zM768,676.2v-9h1v9zM769,676.2v-7h1v7zM771,676.2v-11h1v11zM772,676.2v-19h1v19zM775,676.2v-13h1v13zM779,676.2v-10h1v10zM781,676.2v-24h1v24zM782,676.2v-22h1v22zM783,676.2v-10h1v10zM788,676.2v-22h1v22zM790,676.2v-22h1v22zM792,676.2v-19h1v19zM793,676.2v-19h1v19zM795,676.2v-49h1v49zM800,676.2v-14h1v14zM801,676.2v-10h1v10z" fill="#f84c5c" shape-rendering="crispEdges"/>
<path d="M38,676.2v-7h1v7zM45,676.2v-11h1v11zM47,676.2v-8h1v8zM49,676.2v-6h1v6zM50,676.2v-8h1v8zM53,676.2v-7h1v7zM56,676.2v-12h1v12zM60,676.2v-8h1v8zM62,676.2v-9h1v9zM63,676.2v-8h1v8zM66,676.2v-7h1v7zM67,676.2v-20h1v20zM73,676.2v-12h1v12zM74,676.2v-7h1v7zM76,676.2v-11h1v11zM77,676.2v-8h1v8zM78,676.2v-4h1v4zM79,676.2v-5h1v5zM80,676.2v-13h1v13zM81,676.2v-12h1v12zM82,676.2v-16h1v16zM83,676.2v-10h1v10zM84,676.2v-5h1v5zM88,676.2v-8h1v8zM89,676.2v-12h1v12zM91,676.2v-13h1v13zM92,676.2v-8h1v8zM94,676.2v-9h1v9zM95,676.2v-7h1v7zM97,676.2v-8h1v8zM100,676.2v-9h1v9zM108,676.2v-5h1v5zM110,676.2v-3h1v3zM111,676.2v-9h1v9zM112,676.2v-8h1v8zM113,676.2v-4h1v4zM116,676.2v-4h1v4zM118,676.2v-6h1v6zM119,676.2v-10h1v10zM121,676.2v-9h1v9zM122,676.2v-4h1v4zM126,676.2v-5h1v5zM129,676.2v-5h1v5zM135,676.2v-9h1v9zM136,676.2v-7h1v7zM137,676.2v-11h1v11zM138,676.2v-4h1v4zM139,676.2v-7h1v7zM142,676.2v-4h1v4zM143,676.2v-17h1v17zM144,676.2v-10h1v10zM146,676.2v-3h1v3zM150,676.2v-10h1v10zM151,676.2v-7h1v7zM152,676.2v-6h1v6zM153,676.2v-9h1v9zM155,676.2v-8h1v8zM156,676.2v-10h1v10zM157,676.2v-6h1v6zM158,676.2v-6h1v6zM159,676.2v-4h1v4zM161,676.2v-6h1v6zM162,676.2v-4h1v4zM163,676.2v-5h1v5zM164,676.2v-6h1v6zM165,676.2v-9h1v9zM166,676.2v-9h1v9zM174,676.2v-18h1v18zM177,676.2v-7h1v7zM180,676.2v-8h1v8zM187,676.2v-6h1v6zM188,676.2v-10h1v10zM189,676.2v-8h1v8zM190,676.2v-4h1v4zM191,676.2v-9h1v9zM193,676.2v-13h1v13zM194,676.2v-13h1v13zM196,676.2v-11h1v11zM199,676.2v-11h1v11zM200,676.2v-19h1v19zM204,676.2v-6h1v6zM205,676.2v-6h1v6zM206,676.2v-9h1v9zM208,676.2v-15h1v15zM210,676.2v-15h1v15zM212,676.2v-30h1v30zM217,676.2v-16h1v16zM219,676.2v-17h1v17zM220,676.2v-12h1v12zM221,676.2v-6h1v6zM222,676.2v-15h1v15zM225,676.2v-9h1v9zM227,676.2v-8h1v8zM230,676.2v-11h1v11zM231,676.2v-20h1v20zM232,676.2v-16h1v16zM233,676.2v-14h1v14zM234,676.2v-22h1v22zM235,676.2v-11h1v11zM236,676.2v-5h1v5zM237,676.2v-8h1v8zM238,676.2v-6h1v6zM240,676.2v-10h1v10zM242,676.2v-12h1v12zM243,676.2v-12h1v12zM244,676.2v-6h1v6zM245,676.2v-11h1v11zM246,676.2v-8h1v8zM247,676.2v-15h1v15zM248,676.2v-12h1v12zM249,676.2v-11h1v11zM253,676.2v-9h1v9zM257,676.2v-8h1v8zM258,676.2v-8h1v8zM260,676.2v-6h1v6zM262,676.2v-21h1v21zM265,676.2v-21h1v21zM269,676.2v-6h1v6zM271,676.2v-10h1v10zM272,676.2v-24h1v24zM273,676.2v-10h1v10zM274,676.2v-11h1v11zM275,676.2v-9h1v9zM276,676.2v-10h1v10zM277,676.2v-16h1v16zM278,676.2v-5h1v5zM279,676.2v-8h1v8zM280,676.2v-10h1v10zM281,676.2v-10h1v10zM285,676.2v-18h1v18zM290,676.2v-5h1v5zM291,676.2v-9h1v9zM292,676.2v-12h1v12zM293,676.2v-12h1v12zM297,676.2v-9h1v9zM299,676.2v-9h1v9zM300,676.2v-7h1v7zM301,676.2v-11h1v11zM302,676.2v-41h1v41zM305,676.2v-11h1v11zM307,676.2v-8h1v8zM308,676.2v-5h1v5zM309,676.2v-10h1v10zM310,676.2v-7h1v7zM312,676.2v-11h1v11zM313,676.2v-12h1v12zM314,676.2v-7h1v7zM315,676.2v-11h1v11zM316,676.2v-10h1v10zM319,676.2v-4h1v4zM321,676.2v-17h1v17zM322,676.2v-9h1v9zM323,676.2v-8h1v8zM327,676.2v-8h1v8zM328,676.2v-5h1v5zM329,676.2v-6h1v6zM330,676.2v-4h1v4zM331,676.2v-11h1v11zM333,676.2v-10h1v10zM337,676.2v-8h1v8zM338,676.2v-14h1v14zM339,676.2v-10h1v10zM340,676.2v-14h1v14zM342,676.2v-17h1v17zM346,676.2v-13h1v13zM347,676.2v-9h1v9zM348,676.2v-40h1v40zM349,676.2v-24h1v24zM350,676.2v-34h1v34zM352,676.2v-34h1v34zM353,676.2v-19h1v19zM355,676.2v-30h1v30zM356,676.2v-22h1v22zM357,676.2v-24h1v24zM358,676.2v-28h1v28zM359,676.2v-22h1v22zM361,676.2v-23h1v23zM362,676.2v-18h1v18zM363,676.2v-13h1v13zM367,676.2v-10h1v10zM368,676.2v-23h1v23zM370,676.2v-11h1v11zM372,676.2v-31h1v31zM373,676.2v-14h1v14zM378,676.2v-19h1v19zM379,676.2v-27h1v27zM380,676.2v-9h1v9zM383,676.2v-18h1v18zM384,676.2v-23h1v23zM385,676.2v-7h1v7zM388,676.2v-7h1v7zM389,676.2v-8h1v8zM391,676.2v-9h1v9zM392,676.2v-10h1v10zM393,676.2v-10h1v10zM394,676.2v-5h1v5zM397,676.2v-14h1v14zM400,676.2v-13h1v13zM401,676.2v-9h1v9zM402,676.2v-10h1v10zM406,676.2v-6h1v6zM408,676.2v-8h1v8zM414,676.2v-13h1v13zM415,676.2v-15h1v15zM417,676.2v-5h1v5zM418,676.2v-14h1v14zM419,676.2v-14h1v14zM420,676.2v-8h1v8zM421,676.2v-7h1v7zM422,676.2v-14h1v14zM423,676.2v-14h1v14zM424,676.2v-5h1v5zM425,676.2v-5h1v5zM426,676.2v-19h1v19zM427,676.2v-7h1v7zM431,676.2v-10h1v10zM432,676.2v-6h1v6zM437,676.2v-35h1v35zM440,676.2v-5h1v5zM441,676.2v-7h1v7zM442,676.2v-11h1v11zM443,676.2v-5h1v5zM446,676.2v-8h1v8zM447,676.2v-12h1v12zM448,676.2v-18h1v18zM449,676.2v-6h1v6zM451,676.2v-7h1v7zM453,676.2v-5h1v5zM456,676.2v-9h1v9zM457,676.2v-7h1v7zM458,676.2v-35h1v35zM459,676.2v-13h1v13zM460,676.2v-6h1v6zM463,676.2v-10h1v10zM464,676.2v-15h1v15zM465,676.2v-16h1v16zM466,676.2v-18h1v18zM468,676.2v-20h1v20zM469,676.2v-8h1v8zM470,676.2v-15h1v15zM472,676.2v-26h1v26zM476,676.2v-15h1v15zM479,676.2v-19h1v19zM480,676.2v-19h1v19zM481,676.2v-11h1v11zM482,676.2v-17h1v17zM484,676.2v-27h1v27zM486,676.2v-8h1v8zM490,676.2v-20h1v20zM491,676.2v-12h1v12zM492,676.2v-8h1v8zM493,676.2v-24h1v24zM494,676.2v-19h1v19zM498,676.2v-19h1v19zM499,676.2v-16h1v16zM500,676.2v-17h1v17zM502,676.2v-10h1v10zM503,676.2v-35h1v35zM507,676.2v-9h1v9zM508,676.2v-22h1v22zM509,676.2v-28h1v28zM512,676.2v-31h1v31zM523,676.2v-6h1v6zM524,676.2v-15h1v15zM525,676.2v-12h1v12zM526,676.2v-12h1v12zM527,676.2v-6h1v6zM528,676.2v-7h1v7zM530,676.2v-7h1v7zM531,676.2v-11h1v11zM534,676.2v-25h1v25zM535,676.2v-13h1v13zM536,676.2v-17h1v17zM537,676.2v-15h1v15zM538,676.2v-13h1v13zM542,676.2v-6h1v6zM543,676.2v-5h1v5zM544,676.2v-15h1v15zM545,676.2v-15h1v15zM546,676.2v-10h1v10zM547,676.2v-5h1v5zM548,676.2v-10h1v10zM549,676.2v-9h1v9zM550,676.2v-18h1v18zM552,676.2v-14h1v14zM553,676.2v-7h1v7zM554,676.2v-15h1v15zM555,676.2v-11h1v11zM556,676.2v-9h1v9zM557,676.2v-10h1v10zM558,676.2v-13h1v13zM559,676.2v-16h1v16zM560,676.2v-17h1v17zM564,676.2v-13h1v13zM565,676.2v-8h1v8zM566,676.2v-21h1v21zM569,676.2v-11h1v11zM570,676.2v-17h1v17zM572,676.2v-21h1v21zM575,676.2v-14h1v14zM576,676.2v-16h1v16zM577,676.2v-6h1v6zM578,676.2v-16h1v16zM579,676.2v-16h1v16zM581,676.2v-18h1v18zM582,676.2v-20h1v20zM590,676.2v-32h1v32zM592,676.2v-19h1v19zM595,676.2v-16h1v16zM596,676.2v-12h1v12zM597,676.2v-13h1v13zM598,676.2v-29h1v29zM599,676.2v-16h1v16zM601,676.2v-14h1v14zM602,676.2v-21h1v21zM604,676.2v-35h1v35zM607,676.2v-15h1v15zM608,676.2v-17h1v17zM611,676.2v-26h1v26zM612,676.2v-28h1v28zM614,676.2v-49h1v49zM615,676.2v-28h1v28zM616,676.2v-26h1v26zM624,676.2v-30h1v30zM627,676.2v-40h1v40zM630,676.2v-15h1v15zM631,676.2v-12h1v12zM635,676.2v-10h1v10zM636,676.2v-22h1v22zM637,676.2v-20h1v20zM639,676.2v-28h1v28zM640,676.2v-8h1v8zM641,676.2v-18h1v18zM642,676.2v-11h1v11zM643,676.2v-11h1v11zM644,676.2v-6h1v6zM645,676.2v-11h1v11zM647,676.2v-8h1v8zM650,676.2v-15h1v15zM651,676.2v-12h1v12zM652,676.2v-20h1v20zM656,676.2v-18h1v18zM657,676.2v-11h1v11zM658,676.2v-13h1v13zM661,676.2v-10h1v10zM662,676.2v-6h1v6zM663,676.2v-14h1v14zM664,676.2v-27h1v27zM666,676.2v-10h1v10zM667,676.2v-16h1v16zM668,676.2v-30h1v30zM669,676.2v-16h1v16zM670,676.2v-6h1v6zM671,676.2v-7h1v7zM672,676.2v-22h1v22zM678,676.2v-34h1v34zM681,676.2v-33h1v33zM682,676.2v-34h1v34zM685,676.2v-27h1v27zM686,676.2v-34h1v34zM688,676.2v-24h1v24zM689,676.2v-32h1v32zM690,676.2v-32h1v32zM693,676.2v-30h1v30zM695,676.2v-18h1v18zM696,676.2v-17h1v17zM697,676.2v-39h1v39zM698,676.2v-14h1v14zM699,676.2v-28h1v28zM704,676.2v-18h1v18zM705,676.2v-8h1v8zM706,676.2v-15h1v15zM707,676.2v-13h1v13zM709,676.2v-17h1v17zM711,676.2v-6h1v6zM712,676.2v-14h1v14zM716,676.2v-8h1v8zM717,676.2v-7h1v7zM718,676.2v-42h1v42zM719,676.2v-9h1v9zM720,676.2v-7h1v7zM721,676.2v-11h1v11zM722,676.2v-6h1v6zM723,676.2v-11h1v11zM725,676.2v-8h1v8zM728,676.2v-7h1v7zM729,676.2v-5h1v5zM731,676.2v-13h1v13zM732,676.2v-27h1v27zM733,676.2v-11h1v11zM736,676.2v-4h1v4zM738,676.2v-9h1v9zM740,676.2v-9h1v9zM742,676.2v-7h1v7zM743,676.2v-6h1v6zM746,676.2v-13h1v13zM749,676.2v-9h1v9zM753,676.2v-6h1v6zM754,676.2v-6h1v6zM758,676.2v-7h1v7zM759,676.2v-10h1v10zM761,676.2v-6h1v6zM764,676.2v-19h1v19zM765,676.2v-9h1v9zM767,676.2v-5h1v5zM770,676.2v-7h1v7zM773,676.2v-13h1v13zM776,676.2v-11h1v11zM778,676.2v-11h1v11zM784,676.2v-17h1v17zM785,676.2v-46h1v46zM786,676.2v-13h1v13zM787,676.2v-17h1v17zM789,676.2v-13h1v13zM791,676.2v-7h1v7zM794,676.2v-21h1v21zM796,676.2v-25h1v25zM797,676.2v-14h1v14zM798,676.2v-11h1v11zM799,676.2v-29h1v29z" fill="#00c800" shape-rendering="crispEdges"/>
<g fill="#00c800"><rect x="198" y="612" width="1" height="64.5"/><path d="M198.5,610 l3.2,5.2 h-6.4z"/></g>
<g fill="#f84c5c"><rect x="576" y="612" width="1" height="64.5"/><path d="M576.5,610 l3.2,5.2 h-6.4z"/></g>
<g fill="#f84c5c"><rect x="681" y="612" width="1" height="64.5"/><path d="M681.5,610 l3.2,5.2 h-6.4z"/></g>
<g fill="#00c800"><rect x="682.8" y="612" width="1" height="64.5"/><path d="M683.3,610 l3.2,5.2 h-6.4z"/></g>
<g fill="#00c800"><rect x="685" y="612" width="1" height="64.5"/><path d="M685.5,610 l3.2,5.2 h-6.4z"/></g>
<g fill="#e8141e">
<rect x="40" y="58" width="3" height="618.6"/>
<rect x="190" y="35" width="3" height="641.6"/>
<rect x="345" y="34" width="3" height="642.6"/>
<rect x="496" y="28" width="3" height="648.6"/>
<rect x="645" y="27" width="3" height="649.6"/>
</g>
<text fill="#2c3a52" font-size="14.6px" y="23.2" xml:space="preserve"><tspan x="22" textLength="85" lengthAdjust="spacingAndGlyphs">11.12.2020</tspan><tspan font-size="1px">  </tspan><tspan x="116.6" textLength="5.6" lengthAdjust="spacingAndGlyphs">-</tspan><tspan font-size="1px"> </tspan><tspan x="127.3" textLength="38.5" lengthAdjust="spacingAndGlyphs">Kurs:</tspan><tspan font-size="1px"> </tspan><tspan x="170.3" textLength="41.3" lengthAdjust="spacingAndGlyphs">16,14</tspan></text>
<clipPath id="yc"><rect x="803" y="26" width="69" height="530"/></clipPath>
<g class="t" clip-path="url(#yc)">
<text x="807.2" y="32" font-size="13px" textLength="31.7" lengthAdjust="spacingAndGlyphs">18,75</text>
<text x="807.2" y="100" font-size="13px" textLength="31.7" lengthAdjust="spacingAndGlyphs">17,50</text>
<text x="807.2" y="168" font-size="13px" textLength="31.7" lengthAdjust="spacingAndGlyphs">16,25</text>
<text x="807.2" y="236" font-size="13px" textLength="31.7" lengthAdjust="spacingAndGlyphs">15,00</text>
<text x="807.2" y="303" font-size="13px" textLength="31.7" lengthAdjust="spacingAndGlyphs">13,75</text>
<text x="807.2" y="371" font-size="13px" textLength="31.7" lengthAdjust="spacingAndGlyphs">12,50</text>
<text x="807.2" y="439" font-size="13px" textLength="31.7" lengthAdjust="spacingAndGlyphs">11,25</text>
<text x="807.2" y="506" font-size="13px" textLength="31.7" lengthAdjust="spacingAndGlyphs">10,00</text>
</g>
<g class="y">
<text transform="translate(64.8,56.6) rotate(-90)" textLength="30" lengthAdjust="spacingAndGlyphs">2016</text>
<text transform="translate(216.8,56.6) rotate(-90)" textLength="30" lengthAdjust="spacingAndGlyphs">2017</text>
<text transform="translate(368,56.6) rotate(-90)" textLength="30" lengthAdjust="spacingAndGlyphs">2018</text>
<text transform="translate(518.9,56.6) rotate(-90)" textLength="30" lengthAdjust="spacingAndGlyphs">2019</text>
<text transform="translate(670,56.6) rotate(-90)" textLength="30" lengthAdjust="spacingAndGlyphs">2020</text>
</g>
<g class="t" fill="#000" style="fill:#050505">
<text x="38.6" y="564.3" textLength="59.8" lengthAdjust="spacingAndGlyphs">90,26%HL</text>
<text x="124.3" y="564.3" textLength="78.4" lengthAdjust="spacingAndGlyphs">Intervall: 1 Tag</text>
<text y="564.3" xml:space="preserve"><tspan x="230.3" textLength="32" lengthAdjust="spacingAndGlyphs">Hoch:</tspan><tspan font-size="1px">   </tspan><tspan x="272.3" textLength="31.8" lengthAdjust="spacingAndGlyphs">18,36</tspan></text>
<text y="564.3" xml:space="preserve"><tspan x="330.3" textLength="22.5" lengthAdjust="spacingAndGlyphs">Tief:</tspan><tspan font-size="1px">   </tspan><tspan x="362.3" textLength="24.3" lengthAdjust="spacingAndGlyphs">9,65</tspan></text>
<text x="43" y="600" textLength="105.3" lengthAdjust="spacingAndGlyphs">Volumen (rot-grün)</text>
<text x="182.3" y="600" textLength="89.3" lengthAdjust="spacingAndGlyphs">Steigende Kurse</text>
<text x="312.3" y="600" textLength="82" lengthAdjust="spacingAndGlyphs">Fallende Kurse</text>
</g>
<rect x="174" y="590" width="3" height="10.5" fill="#00c800"/>
<rect x="304" y="590" width="3" height="10.5" fill="#f84c5c"/>
<g fill="#e8141e"><rect x="323.6" y="589" width="2.6" height="9"/><rect x="323.4" y="662.5" width="2.8" height="14"/></g>
<g class="v">
<text transform="translate(806.8,625.8) scale(1,0.85)" textLength="44.5" lengthAdjust="spacingAndGlyphs">200.000</text>
<text transform="translate(806.8,639) scale(1,0.85)" textLength="42.5" lengthAdjust="spacingAndGlyphs">150.000</text>
<text transform="translate(806.8,652.8) scale(1,0.85)" textLength="43.5" lengthAdjust="spacingAndGlyphs">100.000</text>
<text transform="translate(806.8,665.8) scale(1,0.85)" textLength="36.5" lengthAdjust="spacingAndGlyphs">50.000</text>
<text transform="translate(806.8,679) scale(1,0.85)" textLength="6.2" lengthAdjust="spacingAndGlyphs">0</text>
</g>
<text x="34.5" y="689.7" font-size="12px" fill="#f0f0f0" textLength="111" lengthAdjust="spacingAndGlyphs">11.12.2020 17:35 Uhr</text>
</svg></body></html>
